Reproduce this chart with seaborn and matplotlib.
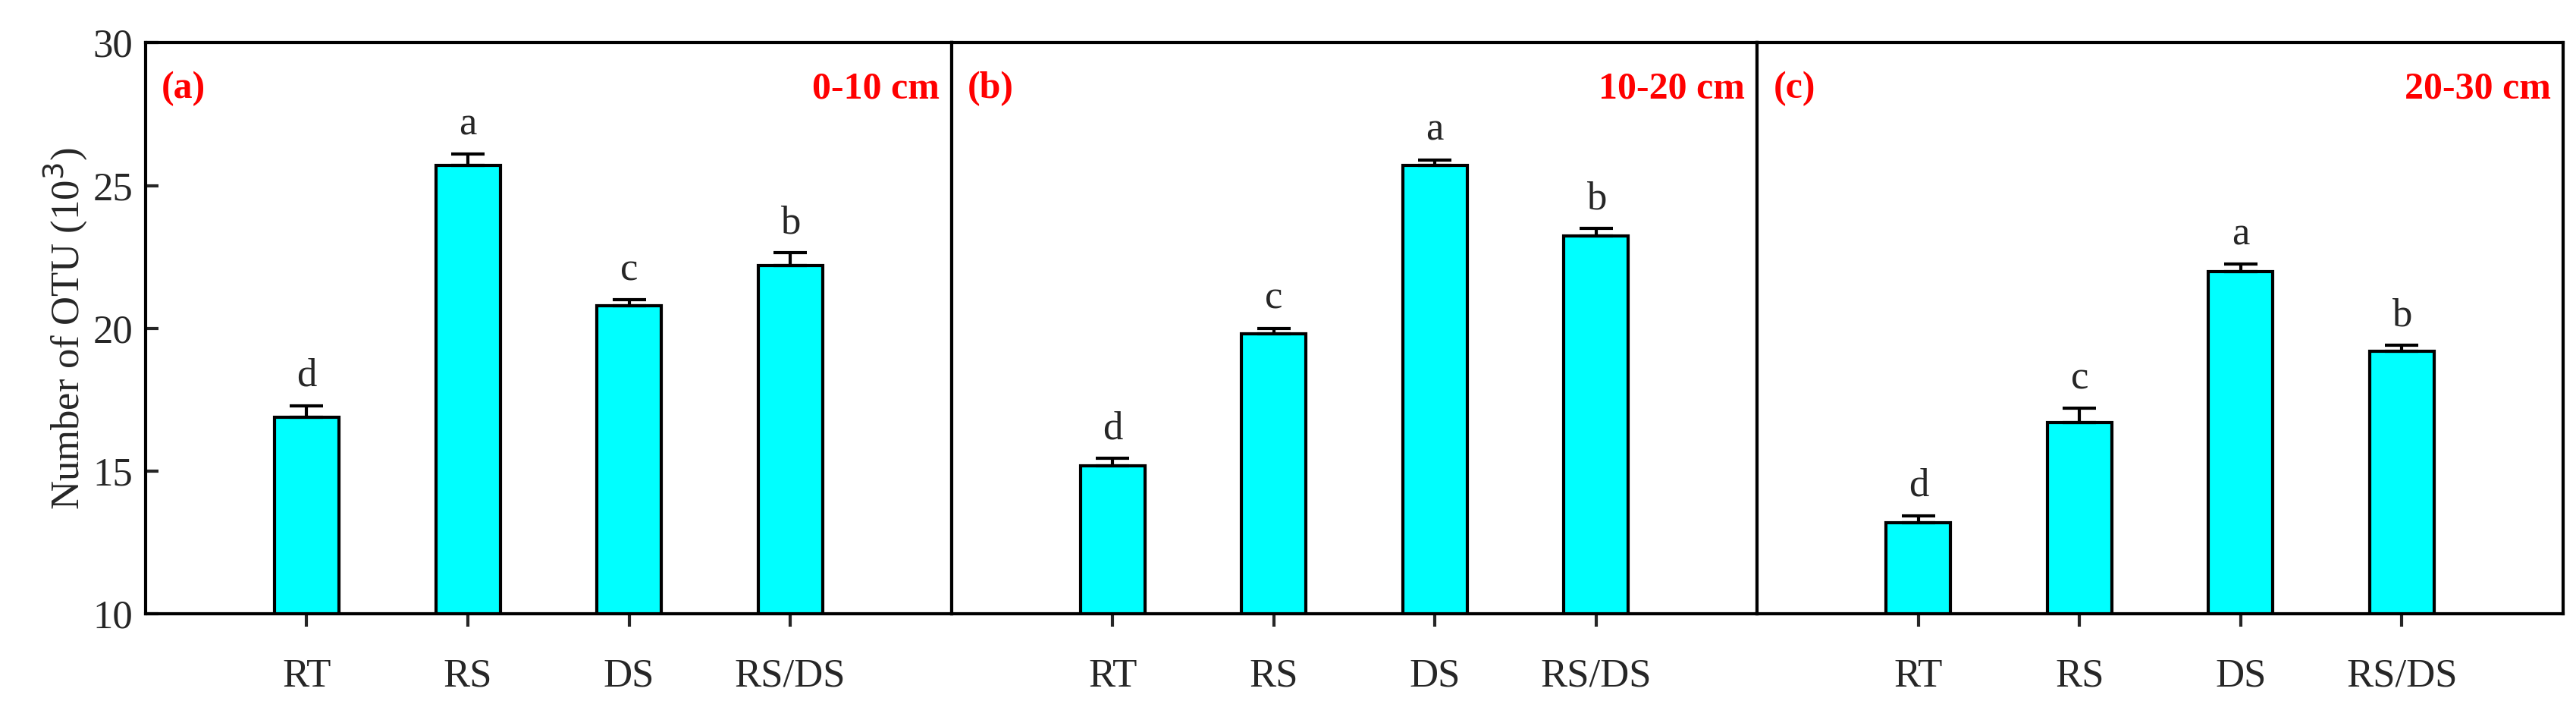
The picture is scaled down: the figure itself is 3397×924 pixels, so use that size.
import matplotlib
matplotlib.use("Agg")
import matplotlib.pyplot as plt
import seaborn as sns
import pandas as pd

sns.set_theme(style="white")
plt.rcParams['font.family'] = ['Liberation Serif', 'DejaVu Serif']

categories = ["RT", "RS", "DS", "RS/DS"]
panels = ["(a)", "(b)", "(c)"]
depths = ["0-10 cm", "10-20 cm", "20-30 cm"]
vals_a = [16.9, 25.7, 20.8, 22.2]
err_a = [0.4, 0.4, 0.2, 0.45]
vals_b = [15.2, 19.8, 25.7, 23.25]
err_b = [0.25, 0.2, 0.2, 0.25]
vals_c = [13.2, 16.7, 22.0, 19.2]
err_c = [0.25, 0.5, 0.25, 0.2]
letters_a = ["d", "a", "c", "b"]
letters_b = ["d", "c", "a", "b"]
letters_c = ["d", "c", "a", "b"]

fig, axes = plt.subplots(1, 3, figsize=(33.97, 9.24), dpi=100, sharey=True)
fig.subplots_adjust(left=0.0565, right=0.995, top=0.939, bottom=0.124, wspace=0)

FS = 38
for ax, vals, errs, lets, pl, dp in zip(axes, [vals_a, vals_b, vals_c], [err_a, err_b, err_c],
                                          [letters_a, letters_b, letters_c], panels, depths):
    df = pd.DataFrame({"cat": categories, "val": vals})
    sns.barplot(data=df, x="cat", y="val", ax=ax, color="#00FFFF", saturation=1,
                edgecolor="black", linewidth=3, width=0.4, errorbar=None)
    ax.errorbar(range(4), vals, yerr=[[0]*4, errs], fmt="none", ecolor="black",
                elinewidth=3, capsize=16, capthick=3)
    for i, (v, e, l) in enumerate(zip(vals, errs, lets)):
        ax.text(i, v + e + 0.4, l, ha="center", va="bottom", fontsize=FS)
    ax.set_xlim(-1, 4)
    ax.set_ylim(10, 30)
    ax.set_xlabel("")
    ax.set_ylabel("")
    ax.text(0.02, 0.95, pl, transform=ax.transAxes, color="red", fontweight="bold",
            fontsize=36, ha="left", va="top")
    ax.text(0.985, 0.95, dp, transform=ax.transAxes, color="red", fontweight="bold",
            fontsize=36, ha="right", va="top")
    for s in ax.spines.values():
        s.set_color("black"); s.set_linewidth(3)
    ax.tick_params(axis="x", direction="out", length=12, width=3, labelsize=FS, pad=30, bottom=True)
    ax.tick_params(axis="y", direction="in", length=12, width=3, labelsize=FS, left=True, pad=12)

axes[0].set_yticks([10, 15, 20, 25, 30])
axes[0].set_ylabel("Number of OTU (10$^3$)", fontsize=FS)
for ax in axes[1:]:
    ax.tick_params(axis="y", left=False)

fig.savefig("out.png", dpi=100)
